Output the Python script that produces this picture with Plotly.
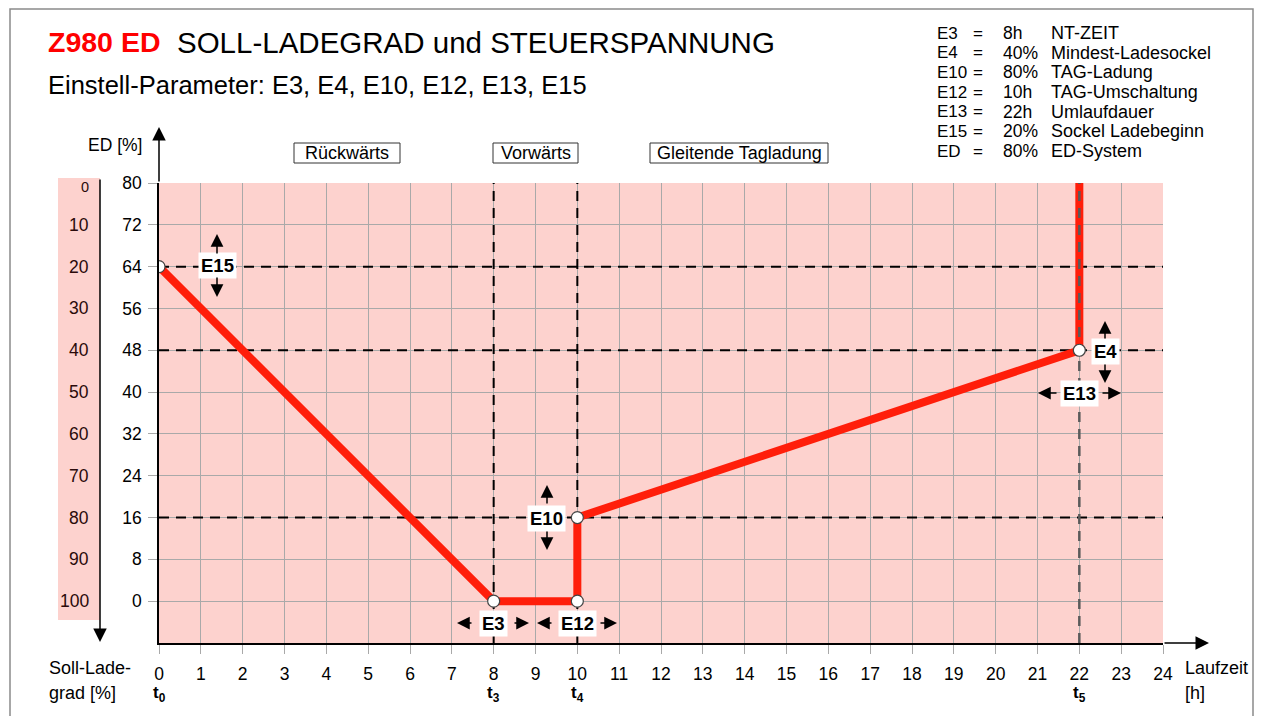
import plotly.graph_objects as go

# ---------------- data ----------------
hours = [0, 8, 10, 10, 22, 22]
ed_values = [64, 0, 0, 16, 48, 80]
point_hours = [0, 8, 10, 10, 22]
point_ed = [64, 0, 0, 16, 48]

x_ticks = list(range(0, 25))
ed_ticks = [0, 8, 16, 24, 32, 40, 48, 56, 64, 72, 80]
soll_labels = ["100", "90", "80", "70", "60", "50", "40", "30", "20", "10", "0"]

h_levels = [64, 48, 16]          # E15, E4, E10 levels (ED %)
v_times_black = [8, 10]          # t3, t4
v_time_gray = 22                 # t5
t_marks = [0, 8, 10, 22]
t_names = ["t<sub>0</sub>", "t<sub>3</sub>", "t<sub>4</sub>", "t<sub>5</sub>"]

legend_keys = ["E3", "E4", "E10", "E12", "E13", "E15", "ED"]
legend_vals = ["8h", "40%", "80%", "10h", "22h", "20%", "80%"]
legend_desc = ["NT-ZEIT", "Mindest-Ladesockel", "TAG-Ladung", "TAG-Umschaltung",
               "Umlaufdauer", "Sockel Ladebeginn", "ED-System"]

# ---------------- geometry helpers (screen pixels) ----------------
OFF = 8                      # default body margin of the html page
FW, FH = 1262 - 2 * OFF, 724 - 2 * OFF
PL, PR, PT, PB = 159, 1163, 183, 643
PW, PH = PR - PL, PB - PT


def xp(px):
    return (px - PL) / PW


def yp(py):
    return (PB - py) / PH


FONT = "Liberation Sans, Arial, sans-serif"
PINK = "#FDD2CE"
RED = "#FF1E0A"
GRID = "#A9A9A9"

fig = go.Figure()

# dashed reference lines (black)
for lv in h_levels:
    fig.add_trace(go.Scatter(x=[0, 24], y=[lv, lv], mode="lines",
                             line=dict(color="black", width=2, dash="10px,7px"),
                             hoverinfo="skip", showlegend=False))
for tv in v_times_black:
    fig.add_trace(go.Scatter(x=[tv, tv], y=[-8, 80], mode="lines",
                             line=dict(color="black", width=2, dash="10px,7px"),
                             hoverinfo="skip", showlegend=False))

# red curve
fig.add_trace(go.Scatter(x=hours, y=ed_values, mode="lines",
                         line=dict(color=RED, width=8),
                         hoverinfo="skip", showlegend=False))

# gray dashed line at t5 over the curve
fig.add_trace(go.Scatter(x=[v_time_gray, v_time_gray], y=[-8, 80], mode="lines",
                         line=dict(color="#5a5a5a", width=2.5, dash="10px,7px"),
                         hoverinfo="skip", showlegend=False))

# markers
fig.add_trace(go.Scatter(x=point_hours, y=point_ed, mode="markers",
                         marker=dict(color="white", size=12,
                                     line=dict(color="#444444", width=1.2)),
                         hoverinfo="skip", showlegend=False))

shapes = []
# outer frame
shapes.append(dict(type="rect", xref="paper", yref="paper",
                   x0=xp(10), x1=xp(1253), y0=yp(740), y1=yp(9),
                   line=dict(color="#8a8a8a", width=1.5), layer="below"))
# pink column for Soll-Ladegrad
shapes.append(dict(type="rect", xref="paper", yref="paper",
                   x0=xp(58), x1=xp(100), y0=yp(620), y1=yp(178),
                   fillcolor=PINK, line=dict(width=0), layer="below"))

ann = []


def arrow(tx, ty, dx, dy, w=1.5, size=1.7):
    # tip at pixel (tx,ty); tail offset (dx,dy) in pixels relative to tip
    ann.append(dict(xref="paper", yref="paper", x=xp(tx), y=yp(ty), ax=dx, ay=dy,
                    axref="pixel", ayref="pixel", text="", showarrow=True,
                    arrowhead=2, arrowsize=size, arrowwidth=w, arrowcolor="black",
                    standoff=0, startstandoff=0))


def text(px, py, t, size=18, color="black", xanchor="left", bold=False, **kw):
    if bold:
        t = "<b>" + t + "</b>"
    d = dict(xref="paper", yref="paper", x=xp(px), y=yp(py), text=t,
             showarrow=False, xanchor=xanchor, yanchor="middle",
             font=dict(family=FONT, size=size, color=color))
    d.update(kw)
    ann.append(d)


# axis arrows
arrow(159, 127, 0, 56, w=1.5, size=1.8)
arrow(1209, 643, -46, 0, w=1.5, size=1.8)
arrow(100, 642, 0, -464, w=1.5, size=1.8)

# titles
text(46, 42, "Z980 ED", size=28.5, color="#FF0000", bold=True)
text(175, 42, "SOLL-LADEGRAD und STEUERSPANNUNG", size=29.5)
text(46, 85, "Einstell-Parameter: E3, E4, E10, E12, E13, E15", size=25.5)

# parameter legend
for i, (k, v, d) in enumerate(zip(legend_keys, legend_vals, legend_desc)):
    y = 33 + i * 19.7
    text(935, y, k, size=17)
    text(978, y, "=", size=17, xanchor="center")
    text(1001, y, v, size=17.5)
    text(1049, y, d, size=18)

# section boxes
for x0, x1, t in [(294, 400, "Rückwärts"), (493, 578, "Vorwärts"), (650, 828, "Gleitende Tagladung")]:
    shapes.append(dict(type="rect", xref="paper", yref="paper",
                       x0=xp(x0), x1=xp(x1), y0=yp(163), y1=yp(143),
                       fillcolor="white", line=dict(color="#333333", width=1)))
    text((x0 + x1) / 2, 153, t, size=18, xanchor="center")

# axis captions
text(144, 145, "ED [%]", size=17.5, xanchor="right")
text(47, 668, "Soll-Lade-", size=18)
text(47, 693, "grad [%]", size=18)
text(1183, 668, "Laufzeit", size=18)
text(1183, 693, "[h]", size=18)

# Soll-Ladegrad labels
for lv, lab in zip(ed_ticks, soll_labels):
    py = PB - (lv + 8) / 88 * PH
    if lab == "0":
        text(91, py + 4, lab, size=14.5, xanchor="right", color="#2a0a0a")
    else:
        text(91, py, lab, size=17.5, xanchor="right", color="#2a0a0a")

# t labels
for tm, tn in zip(t_marks, t_names):
    ann.append(dict(xref="x", yref="paper", x=tm, y=yp(694), text="<b>" + tn + "</b>",
                    showarrow=False, xanchor="center", yanchor="middle",
                    font=dict(family=FONT, size=17, color="black")))


# E labels with white background and arrows
def elabel(px, py, t):
    ann.append(dict(xref="paper", yref="paper", x=xp(px), y=yp(py), text="<b>" + t + "</b>",
                    showarrow=False, xanchor="center", yanchor="middle",
                    bgcolor="white", borderpad=2,
                    font=dict(family=FONT, size=18.5, color="black")))


# E15
elabel(217, 265, "E15")
arrow(217, 234, 0, 21)
arrow(217, 297, 0, -21)
# E10
elabel(546, 518, "E10")
arrow(547, 485, 0, 20)
arrow(547, 550, 0, -20)
# E4
elabel(1105, 351, "E4")
arrow(1105, 321, 0, 19)
arrow(1105, 383, 0, -20)
# E13
elabel(1079, 393, "E13")
arrow(1038, 393, 20, 0)
arrow(1121, 393, -20, 0)
# E3
elabel(493, 623, "E3")
arrow(457, 623, 16, 0)
arrow(529, 623, -16, 0)
# E12
elabel(577, 623, "E12")
arrow(537, 623, 16, 0)
arrow(617, 623, -18, 0)

fig.update_layout(
    width=FW, height=FH,
    margin=dict(l=PL - OFF, r=(FW + OFF) - PR, t=PT - OFF, b=(FH + OFF) - PB, pad=0),
    paper_bgcolor="white", plot_bgcolor=PINK,
    font=dict(family=FONT, size=17, color="black"),
    shapes=shapes, annotations=ann, showlegend=False,
)
fig.update_xaxes(range=[0, 24], tickvals=x_ticks, ticktext=[str(v) for v in x_ticks],
                 showgrid=True, gridcolor=GRID, gridwidth=1,
                 ticks="outside", ticklen=9, tickcolor=GRID, tickwidth=1,
                 showline=True, linecolor="black", linewidth=1.5,
                 zeroline=False, tickfont=dict(family=FONT, size=17.5),
                 ticklabelstandoff=5, fixedrange=True)
fig.update_yaxes(range=[-8, 80], tickvals=ed_ticks, ticktext=[str(v) for v in ed_ticks],
                 showgrid=True, gridcolor=GRID, gridwidth=1,
                 ticks="outside", ticklen=9, tickcolor=GRID, tickwidth=1,
                 showline=True, linecolor="black", linewidth=1.5,
                 zeroline=False, tickfont=dict(family=FONT, size=17.5),
                 ticklabelstandoff=3, fixedrange=True)

fig.write_html("out.html")
